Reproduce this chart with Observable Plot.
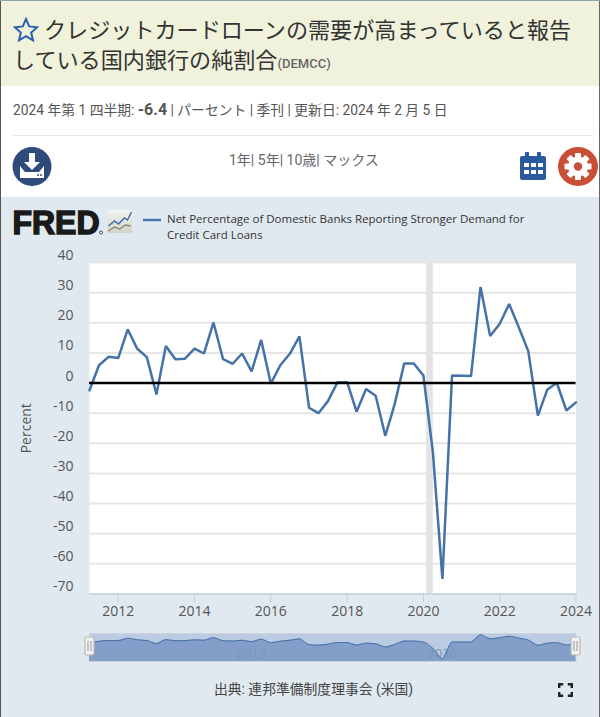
<!DOCTYPE html>
<html lang="ja"><head><meta charset="utf-8">
<script src="https://cdn.jsdelivr.net/npm/d3@7"></script>
<script src="https://cdn.jsdelivr.net/npm/@observablehq/plot@0.6"></script>
<style>
html,body{margin:0;padding:0;background:#fff}
body{width:600px;height:717px;overflow:hidden;position:relative;font-family:Roboto,"Noto Sans CJK JP",sans-serif;color:#444}
.abs{position:absolute}
#head{left:0;top:0;width:600px;height:86px;background:#f0f2dc}
#title{left:13px;top:16px;width:580px;font-size:22.1px;line-height:29.5px;color:#333;white-space:nowrap}
#title small{font-size:13px;color:#666;font-weight:500}
#meta{left:13px;top:101px;font-size:13.8px;color:#555;white-space:nowrap;line-height:18px}
#meta b{font-size:16px;color:#555}
#rule{left:13px;top:135px;width:580px;height:1px;background:#e3e9f0}
#range{left:229px;top:151px;font-size:14px;color:#666;white-space:nowrap;line-height:18px}
#panel{left:0;top:197px;width:600px;height:520px;background:#e1e9f0}
#legend{left:167px;top:211px;font:11.5px/16px "Open Sans",sans-serif;color:#333;width:400px;white-space:nowrap}
#source{left:214px;top:680px;font-size:13.8px;color:#444;white-space:nowrap;line-height:18px}
#main{left:0;top:198px}#nav{left:0;top:630px}
svg{display:block}
#edge{left:0;top:0;width:1px;height:717px;background:#555}
#edge2{left:599px;top:0;width:1px;height:717px;background:#666}
#edge3{left:0;top:0;width:600px;height:1px;background:#8ea5ad}
</style></head><body>
<div class="abs" id="head"></div>
<div class="abs" id="title"><svg style="display:inline-block;vertical-align:-4px" width="26" height="25" viewBox="0 0 26 25"><path d="M13 2l3.2 7.4 8 .8-6 5.3 1.8 7.9-7-4.2-7 4.2 1.8-7.9-6-5.3 8-.8z" fill="none" stroke="#2b62ad" stroke-width="2"/></svg><span style="margin-left:5px">クレジットカードローンの需要が高まっていると報告</span><br>している国内銀行の純割合<small>(DEMCC)</small></div>
<div class="abs" id="meta">2024 年第 1 四半期: <b>-6.4</b> | パーセント | 季刊 | 更新日: 2024 年 2 月 5 日</div>
<div class="abs" id="rule"></div>
<div class="abs" id="range">1年| 5年| 10歳| マックス</div>
<svg class="abs" style="left:12px;top:147px" width="41" height="39" viewBox="0 0 41 39"><ellipse cx="20" cy="19.5" rx="19.5" ry="19.5" fill="#2f4b7c"/><path d="M17 6h6v9h5l-8 8-8-8h5z" fill="#fff"/><path d="M8 19l5 6h14l5-6v12H8z" fill="#fff"/><circle cx="26" cy="28" r="1" fill="#2f4b7c"/><circle cx="29" cy="28" r="1" fill="#2f4b7c"/></svg>
<svg class="abs" style="left:520px;top:152px" width="26" height="28" viewBox="0 0 26 28"><path d="M2 4h22a2 2 0 0 1 2 2v20a2 2 0 0 1-2 2H2a2 2 0 0 1-2-2V6a2 2 0 0 1 2-2z" fill="#2b5a9e"/><rect x="5" y="0" width="4" height="6" rx="1" fill="#2b5a9e"/><rect x="17" y="0" width="4" height="6" rx="1" fill="#2b5a9e"/><g fill="#fff"><rect x="4" y="11" width="5" height="4"/><rect x="11" y="11" width="5" height="4"/><rect x="18" y="11" width="5" height="4"/><rect x="4" y="18" width="5" height="4"/><rect x="11" y="18" width="5" height="4"/><rect x="18" y="18" width="5" height="4"/></g></svg>
<svg class="abs" style="left:558px;top:147px" width="41" height="39" viewBox="0 0 41 39"><ellipse cx="20" cy="19.5" rx="20" ry="19.5" fill="#c94f36"/><g fill="#fff"><circle cx="20" cy="19.5" r="10"/><rect x="17" y="6" width="6" height="27" rx="1"/><rect x="17" y="6" width="6" height="27" rx="1" transform="rotate(45 20 19.5)"/><rect x="17" y="6" width="6" height="27" rx="1" transform="rotate(90 20 19.5)"/><rect x="17" y="6" width="6" height="27" rx="1" transform="rotate(135 20 19.5)"/></g><circle cx="20" cy="19.5" r="4.2" fill="#c94f36"/></svg>
<div class="abs" id="panel"></div>
<div class="abs" id="main"></div>
<svg class="abs" style="left:12px;top:200px;overflow:visible" width="122" height="42" viewBox="0 0 122 42"><defs><linearGradient id="tg" x1="0" y1="0" x2="0" y2="1"><stop offset="0" stop-color="#f2f2ee"/><stop offset="1" stop-color="#d4d4cc"/></linearGradient></defs><text x="0.5" y="33.5" font-family="Liberation Sans" font-weight="700" font-size="33" textLength="87" lengthAdjust="spacingAndGlyphs" fill="#1a1a1a" stroke="#1a1a1a" stroke-width="1.5">FRED</text><circle cx="89" cy="32.500" r="1.500" fill="none" stroke="#1a1a1a" stroke-width="0.700"/><rect x="95" y="10" width="25" height="23" rx="2" fill="url(#tg)"/><path d="M96.500 26l6-5 4 3 6-6 3 2 4-8" fill="none" stroke="#3d6ca8" stroke-width="1.4"/><path d="M96.500 31l6-4 5 2 6-4 5 1" fill="none" stroke="#85857a" stroke-width="1.4"/></svg>
<svg class="abs" style="left:143px;top:218px" width="18" height="4"><rect width="18" height="2.4" y="0.8" fill="#4572a7"/></svg>
<div class="abs" id="legend">Net Percentage of Domestic Banks Reporting Stronger Demand for<br>Credit Card Loans</div>
<div class="abs" id="nav"></div>
<svg class="abs" style="left:84px;top:636px" width="11" height="20"><rect x="1" y="1" width="9" height="18" rx="1.5" fill="#f2f2f2" stroke="#b8b8b8" stroke-width="1.2"/><path d="M4 5v10M7 5v10" stroke="#a5a5a5" stroke-width="1.2"/></svg>
<svg class="abs" style="left:570px;top:636px" width="11" height="20"><rect x="1" y="1" width="9" height="18" rx="1.5" fill="#f2f2f2" stroke="#b8b8b8" stroke-width="1.2"/><path d="M4 5v10M7 5v10" stroke="#a5a5a5" stroke-width="1.2"/></svg>
<div class="abs" id="source">出典: 連邦準備制度理事会 (米国)</div>
<svg class="abs" style="left:558px;top:683px" width="15" height="14" viewBox="0 0 15 14"><path d="M1.200 5V1.200h4M9.800 1.200h4V5M13.800 9v3.800h-4M5.200 12.800h-4V9" fill="none" stroke="#222" stroke-width="2.400"/></svg>
<div class="abs" id="edge"></div><div class="abs" id="edge2"></div><div class="abs" id="edge3"></div>
<script>
const quarters = ["2011-04-01","2011-07-01","2011-10-01","2012-01-01","2012-04-01","2012-07-01","2012-10-01","2013-01-01","2013-04-01","2013-07-01","2013-10-01","2014-01-01","2014-04-01","2014-07-01","2014-10-01","2015-01-01","2015-04-01","2015-07-01","2015-10-01","2016-01-01","2016-04-01","2016-07-01","2016-10-01","2017-01-01","2017-04-01","2017-07-01","2017-10-01","2018-01-01","2018-04-01","2018-07-01","2018-10-01","2019-01-01","2019-04-01","2019-07-01","2019-10-01","2020-01-01","2020-04-01","2020-07-01","2020-10-01","2021-01-01","2021-04-01","2021-07-01","2021-10-01","2022-01-01","2022-04-01","2022-07-01","2022-10-01","2023-01-01","2023-04-01","2023-07-01","2023-10-01","2024-01-01"];
const values = [-2.4,5.9,8.7,8.3,17.8,11.4,8.6,-3.8,12.3,7.9,8.1,11.4,9.8,20.1,7.9,6.4,9.8,3.9,14.3,-0.2,5.9,9.7,15.5,-8.2,-10,-6,0.3,0.3,-9.5,-2,-4.2,-17.5,-7,6.5,6.5,2.5,-23,-65,2.5,2.4,2.3,31.9,15.6,19.7,26.2,18.6,10.6,-10.8,-2.2,0.1,-9.1,-6.4];
const yTicks = [40,30,20,10,0,-10,-20,-30,-40,-50,-60,-70];
const xTickYears = [2012,2014,2016,2018,2020,2022,2024];
const navTickYears = [2015,2020];
const recession = ["2020-02-01","2020-04-05"];

const rows = quarters.map((q,i)=>({date:new Date(q+"T00:00:00Z"),value:values[i]}));
const xDomain = [rows[0].date, rows[rows.length-1].date];
const yearDate = y=>new Date(Date.UTC(y,0,1));
const fontFamily = '"Open Sans",sans-serif';

const main = Plot.plot({
  width:600,height:519,marginTop:64,marginBottom:123.5,marginLeft:89,marginRight:24.5,
  style:{background:"transparent",fontFamily,fontSize:"14px",color:"#555",overflow:"visible"},
  x:{type:"utc",domain:xDomain},
  y:{domain:[-70,40]},
  marks:[
    Plot.frame({fill:"#fff",stroke:null}),
    Plot.gridY(yTicks,{stroke:"#e6e6e6",strokeWidth:2,strokeOpacity:1}),
    Plot.rectX([0],{x1:()=>new Date(recession[0]+"T00:00:00Z"),x2:()=>new Date(recession[1]+"T00:00:00Z"),y1:-70,y2:40,fill:"#e4e4e4"}),
    Plot.ruleY([-70],{stroke:"#c0d0e0",strokeWidth:1.5}),
    Plot.axisX(xTickYears.map(yearDate),{tickFormat:d=>String(d.getUTCFullYear()),tickSize:9,tickPadding:3,stroke:"#c0d0e0",fill:"#555",fontSize:14,label:null}),
    Plot.axisY(yTicks,{tickSize:0,tickPadding:16,dy:-7,fill:"#555",fontSize:14,label:"Percent",labelAnchor:"center",labelArrow:"none",labelOffset:68,tickFormat:d=>String(d)}),
    Plot.lineY(rows,{x:"date",y:"value",stroke:"#4572a7",strokeWidth:2.5,strokeLinejoin:"miter"}),
    Plot.ruleY([0],{stroke:"#000",strokeWidth:2.4})
  ]
});
document.getElementById("main").append(main);

const nav = Plot.plot({
  width:600,height:34,marginTop:3,marginBottom:3,marginLeft:89,marginRight:24.5,
  style:{background:"transparent",fontFamily,fontSize:"13px"},
  x:{type:"utc",domain:xDomain,axis:null},
  y:{domain:[-76,37],axis:null},
  marks:[
    Plot.frame({fill:"#bccbe4",stroke:"#ccd3dd",strokeWidth:1}),
    Plot.areaY(rows,{x:"date",y1:()=>-76,y2:"value",fill:"#839fc9"}),
    Plot.lineY(rows,{x:"date",y:"value",stroke:"#4572a7",strokeWidth:1,curve:"monotone-x"}),
    Plot.text(navTickYears,{x:yearDate,y:()=>-47,text:d=>String(d),textAnchor:"start",dx:4,fill:"#7a93b8",fontSize:13})
  ]
});
document.getElementById("nav").append(nav);
</script>
</body></html>
